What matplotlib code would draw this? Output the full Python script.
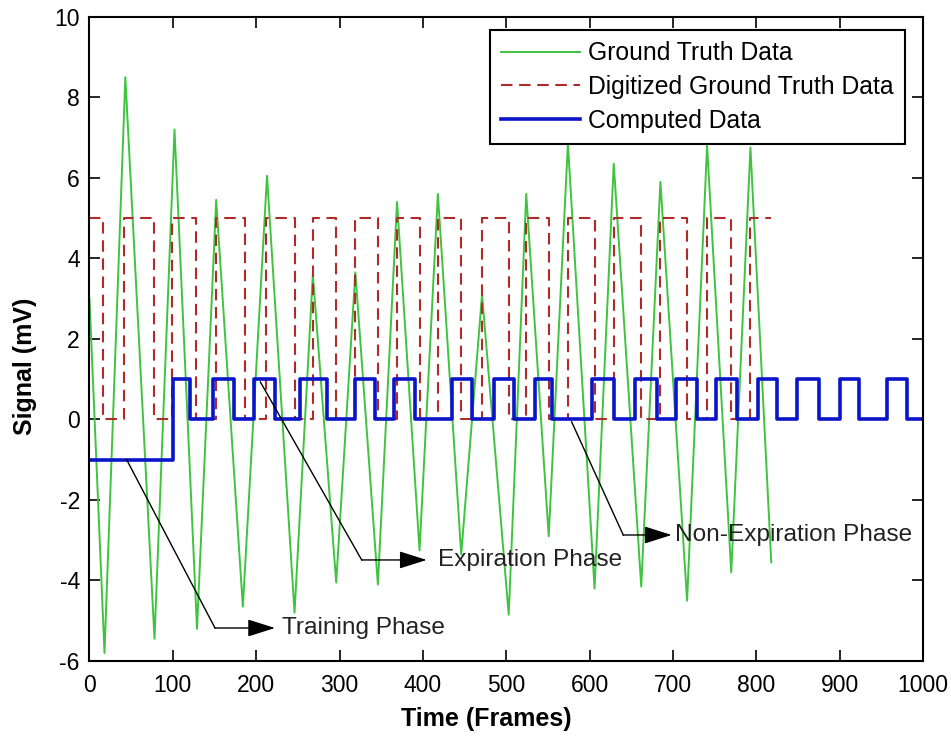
import matplotlib
matplotlib.use("Agg")
import matplotlib.pyplot as plt

plt.rcParams['font.family'] = ['Liberation Sans', 'DejaVu Sans']
plt.rcParams['axes.unicode_minus'] = False

# Ground truth: peaks and troughs (frame, mV)
gt_frames = [0, 18, 43, 78, 102, 129, 152, 184, 213, 246, 268, 296, 319, 346, 369, 396,
             418, 446, 471, 503, 524, 551, 574, 606, 629, 662, 685, 717, 741, 770, 793, 818]
gt_values = [3.0, -5.8, 8.5, -5.45, 7.2, -5.2, 5.45, -4.65, 6.05, -4.8, 3.6, -4.05, 3.65, -4.1, 5.4, -3.25,
             5.6, -3.35, 3.1, -4.85, 5.6, -2.9, 6.85, -4.2, 6.35, -4.15, 5.9, -4.5, 6.8, -3.8, 6.75, -3.55]

# Digitized ground truth: step edges and the level that starts at each edge
dig_frames = [0, 16, 41, 78, 99, 128, 152, 186, 212, 246, 268, 296, 319, 346, 369, 396,
              418, 446, 471, 503, 524, 551, 574, 606, 629, 662, 685, 717, 741, 770, 793, 818]
dig_values = [5, 0, 5, 0, 5, 0, 5, 0, 5, 0, 5, 0, 5, 0, 5, 0,
              5, 0, 5, 0, 5, 0, 5, 0, 5, 0, 5, 0, 5, 0, 5, 5]

# Computed data: step edges and levels
comp_frames = [0, 100, 121, 148, 173, 197, 223, 253, 285, 318, 343, 365, 391, 435, 459, 485, 509, 535,
               555, 603, 629, 655, 681, 704, 729, 752, 777, 802, 825, 849, 875, 901, 923, 957, 981, 1000]
comp_values = [-1, 1, 0, 1, 0, 1, 0, 1, 0, 1, 0, 1, 0, 1, 0, 1, 0, 1,
               0, 1, 0, 1, 0, 1, 0, 1, 0, 1, 0, 1, 0, 1, 0, 1, 0, 0]

fig = plt.figure(figsize=(9.51, 7.39), dpi=100)
ax = fig.add_axes([0.0941, 0.1055, 0.8764, 0.8719])

ax.plot(gt_frames, gt_values, color='#3ec43e', lw=1.4, label='Ground Truth Data')
ax.plot(dig_frames, dig_values, color='#b02a2a', lw=1.5, dashes=(5.5, 3.2),
        drawstyle='steps-post', label='Digitized Ground Truth Data')
ax.plot(comp_frames, comp_values, color='#0a14c8', lw=2.6,
        drawstyle='steps-post', label='Computed Data')

ax.set_xlim(0, 1000)
ax.set_ylim(-6, 10)
ax.set_xticks(range(0, 1001, 100))
ax.set_yticks(range(-6, 11, 2))
ax.tick_params(direction='in', top=True, right=True, length=8, width=1.2, labelsize=16.5)
ax.tick_params(axis='x', pad=9)
ax.tick_params(axis='y', pad=7)
for s in ax.spines.values():
    s.set_linewidth(1.5)

ax.set_xlabel('Time (Frames)', fontsize=18, fontweight='bold')
ax.set_ylabel('Signal (mV)', fontsize=18, fontweight='bold')
ax.xaxis.set_label_coords(0.476, -0.071)
ax.yaxis.set_label_coords(-0.063, 0.458)

leg = ax.legend(loc='upper right', bbox_to_anchor=(0.978, 0.979), borderaxespad=0,
                fontsize=17.8, handlelength=3.2, labelspacing=0.39, fancybox=False,
                framealpha=1, edgecolor='black', borderpad=0.45, handletextpad=0.3)
leg.get_frame().set_linewidth(1.5)

# annotations: diagonal leader, then a horizontal arrow to the text
notes = [
    ('Training Phase', (44.6, -1.0), (150.6, -5.18), 222.6, 230.6),
    ('Expiration Phase', (205, 0.93), (326.6, -3.49), 404.6, 417.6),
    ('Non-Expiration Phase', (578.5, -0.06), (640.4, -2.87), 698.5, 702.5),
]
for txt, start, corner, tip, tx in notes:
    ax.plot([start[0], corner[0]], [start[1], corner[1]], color='black', lw=1.0)
    ax.annotate('', xy=(tip, corner[1]), xytext=corner,
                arrowprops=dict(arrowstyle='-|>,head_length=0.95,head_width=0.3',
                                color='black', lw=1.0, mutation_scale=18,
                                shrinkA=0, shrinkB=0))
    ax.text(tx, corner[1], txt, fontsize=17.6, va='center', ha='left', color='#222222')

fig.savefig('out.png', dpi=100)
